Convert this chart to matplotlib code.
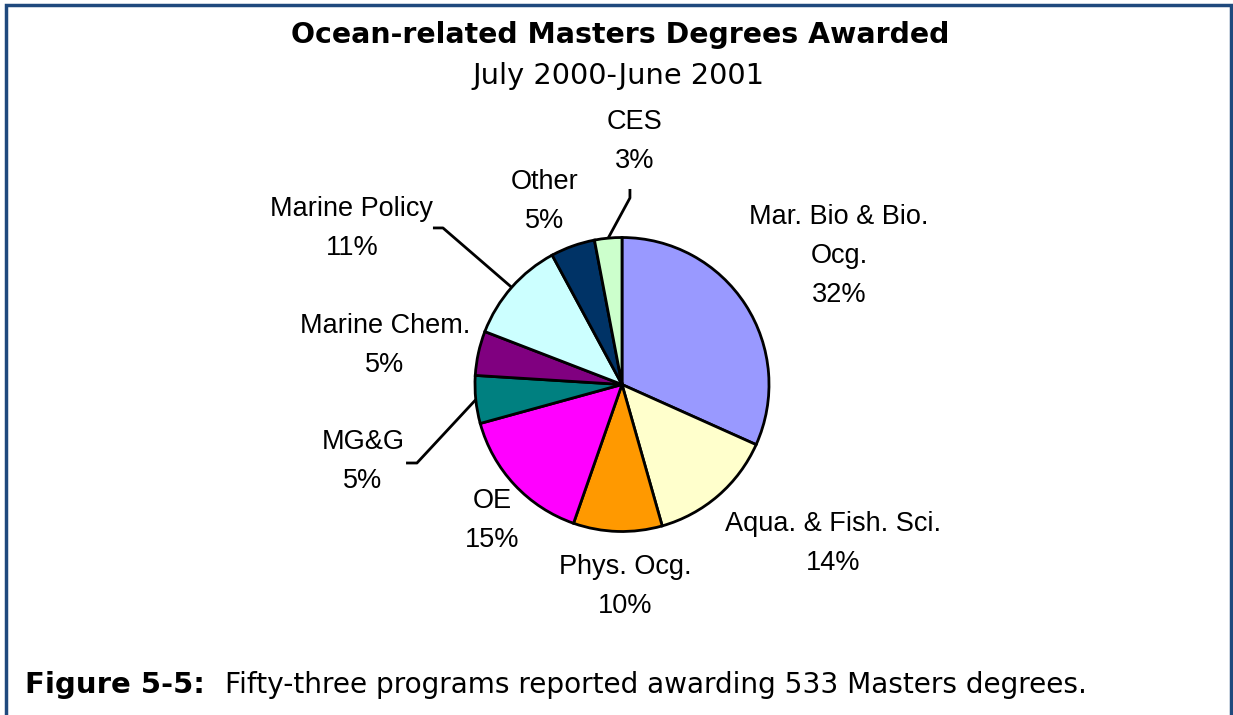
import matplotlib
matplotlib.use('Agg')
import matplotlib.pyplot as plt
from matplotlib.lines import Line2D
import numpy as np

# ---------------- data ----------------
categories = ['Mar. Bio & Bio.\nOcg.', 'Aqua. & Fish. Sci.', 'Phys. Ocg.', 'OE', 'MG&G',
              'Marine Chem.', 'Marine Policy', 'Other', 'CES']
degrees = [169, 74, 52, 82, 28, 26, 60, 26, 16]
colors = ['#9999FF', '#FFFFCC', '#FF9900', '#FF00FF', '#008080',
          '#800080', '#CCFFFF', '#003366', '#CCFFCC']
title = 'Ocean-related Masters Degrees Awarded'
subtitle = 'July 2000-June 2001'
caption_bold = 'Figure 5-5:'
caption_text = 'Fifty-three programs reported awarding 533 Masters degrees.'

# label placement (in pie-radius units, relative to pie centre)
label_pos = [(1.476, 0.874), (1.435, -1.085), (0.020, -1.371), (-0.884, -0.922),
             (-1.762, -0.527), (-1.612, 0.262), (-1.837, 1.058), (-0.524, 1.248),
             (0.088, 1.656)]
leaders = {6: [(-1.286, 1.065), (-1.218, 1.065)],
           4: [(-1.469, -0.534), (-1.395, -0.534)],
           8: [(0.054, 1.330), (0.054, 1.269)]}

W, H = 1233, 715
fig = plt.figure(figsize=(W / 100, H / 100), dpi=100)
fig.patch.set_facecolor('white')

# frame (top, left, right)
fig.add_artist(Line2D([6 / W, 6 / W, 1231 / W, 1231 / W], [0, 1 - 5 / H, 1 - 5 / H, 0],
                      transform=fig.transFigure, color='#1F497D', lw=2.5,
                      solid_joinstyle='miter'))

cx, cy, r = 622, 384.5, 147
ax = fig.add_axes([(cx - r) / W, (H - cy - r) / H, 2 * r / W, 2 * r / H])
res = ax.pie(degrees, colors=colors, startangle=90, counterclock=False, radius=1,
             wedgeprops=dict(edgecolor='black', linewidth=2))
wedges = res[0]
ax.set_xlim(-1, 1)
ax.set_ylim(-1, 1)
ax.axis('off')

total = sum(degrees)
for i, (cat, v, w) in enumerate(zip(categories, degrees, wedges)):
    pct = round(100 * v / total)
    x, y = label_pos[i]
    ax.text(x, y, f'{cat}\n{pct}%', ha='center', va='center', fontsize=19.5,
            family=['Liberation Sans', 'DejaVu Sans'], linespacing=1.65, clip_on=False)
    if i in leaders:
        th = np.deg2rad((w.theta1 + w.theta2) / 2)
        pts = leaders[i] + [(np.cos(th), np.sin(th))]
        xs, ys = zip(*pts)
        ax.plot(xs, ys, color='black', lw=2, clip_on=False, solid_capstyle='butt')

# titles
t1 = fig.text(620 / W, 1 - 35 / H, title, ha='center', va='center', weight='bold',
              family='DejaVu Sans', fontsize=19)
t2 = fig.text(618 / W, 1 - 76 / H, subtitle, ha='center', va='center',
              family='DejaVu Sans', fontsize=16)
c1 = fig.text(25 / W, 1 - 693 / H, caption_bold, ha='left', va='baseline', weight='bold',
              family='DejaVu Sans', fontsize=18)
c2 = fig.text(225 / W, 1 - 693 / H, caption_text, ha='left', va='baseline',
              family='DejaVu Sans', fontsize=18)

fig.canvas.draw()
rend = fig.canvas.get_renderer()
for t, target in [(t1, 657), (t2, 293), (c1, 180), (c2, 868)]:
    wpx = t.get_window_extent(rend).width
    t.set_fontsize(t.get_fontsize() * target / wpx)

fig.savefig('out.png', dpi=100, facecolor='white')
